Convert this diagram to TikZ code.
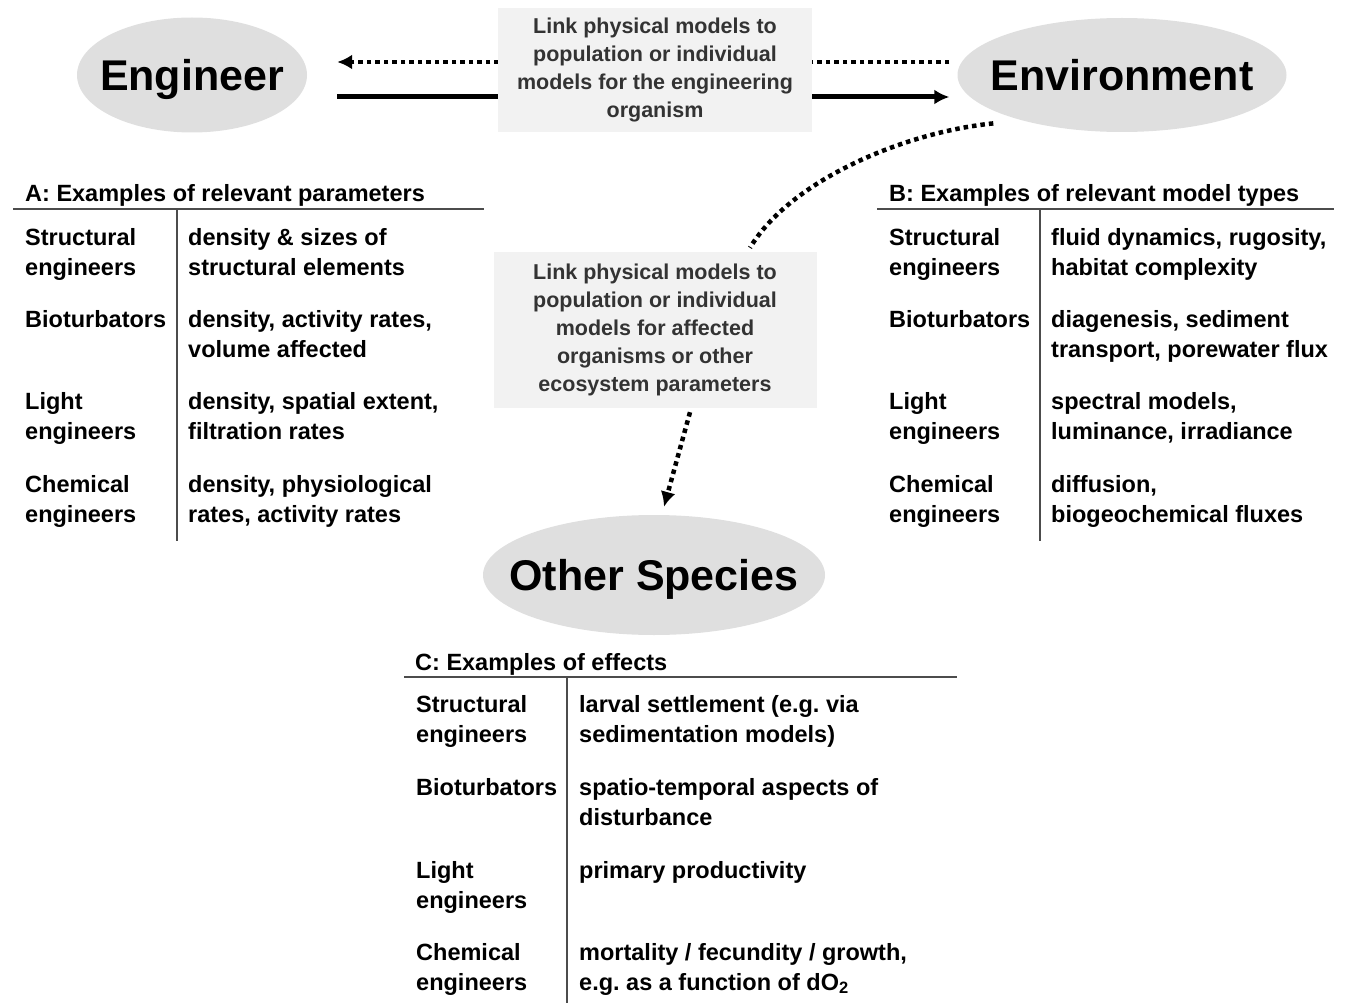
\documentclass[tikz,border=0pt]{standalone}
\usepackage{fontspec}
\setmainfont{Liberation Sans}
\frenchspacing
\usetikzlibrary{positioning,arrows.meta,shapes.geometric}
\tikzset{
  dotline/.style={line width=4.5pt, dash pattern=on 4.5pt off 4pt},
  dotarrow/.style={dotline, -{Latex[length=15pt,width=15pt]}},
  solidarrow/.style={line width=5pt, -{Latex[length=15pt,width=15pt]}},
  actor/.style={ellipse, fill=gray!25, inner sep=0pt, text depth=0pt, font=\fontsize{43}{50}\selectfont\bfseries},
  linkbox/.style={fill=gray!10, inner sep=0pt, align=center, text=black!80, font=\fontsize{21.5}{27.8}\selectfont\bfseries},
  tabtitle/.style={anchor=base west, inner sep=0pt, font=\fontsize{23.5}{30}\selectfont\bfseries},
  tabcell/.style={anchor=north west, inner sep=0pt, align=left, font=\fontsize{23.5}{30}\selectfont\bfseries},
  tabrule/.style={line width=1.8pt, black!70}
}
\begin{document}
\begin{tikzpicture}[x=1pt, y=-1pt]
  \useasboundingbox (0,0) rectangle (1347,1003);
  % the three actors
  \node[actor, minimum width=230pt, minimum height=115pt] (eng) at (192,75) {\makebox[0pt]{Engineer}};
  \node[actor, minimum width=329pt, minimum height=114pt] (env) at (1122,75) {\makebox[0pt]{Environment}};
  \node[actor, minimum width=342pt, minimum height=120pt] (sps) at (654,575) {\makebox[0pt]{Other Species}};
  % links between engineer and environment
  \draw[dotarrow] ([xshift=-8pt,yshift=13pt]env.west) -- ([xshift=30pt,yshift=13pt]eng.east);
  \draw[solidarrow] ([xshift=30pt,yshift=-22pt]eng.east) -- ([xshift=-8pt,yshift=-22pt]env.west);
  \node[linkbox, minimum width=314pt, minimum height=124pt] (link1) at (655,70)
    {Link physical models to\\population or individual\\models for the engineering\\organism};
  \node[linkbox, minimum width=323pt, minimum height=156pt] (link2) at (655,330)
    {Link physical models to\\population or individual\\models for affected\\organisms or other\\ecosystem parameters};
  \draw[dotline] ([xshift=-15pt,yshift=-7pt]env.200) .. controls +(-90,9) and +(40,-67) .. ([xshift=95pt,yshift=4pt]link2.north);
  \draw[dotarrow] ([xshift=35pt,yshift=-4pt]link2.south) -- ([xshift=10pt,yshift=8pt]sps.north);
  % table A
  \node[tabtitle] (ta) at (25,202) {A: Examples of relevant parameters};
  \draw[tabrule] (13,209) -- (484,209);
  \draw[tabrule] (177,209) -- (177,541);
  \node[tabcell] (a1l) at (25,224) {\strut Structural\\engineers};
  \node[tabcell] (a1r) at (188,224) {\strut density \& sizes of\\structural elements};
  \node[tabcell] (a2l) at (25,306) {\strut Bioturbators};
  \node[tabcell] (a2r) at (188,306) {\strut density, activity rates,\\volume affected};
  \node[tabcell] (a3l) at (25,388) {\strut Light\\engineers};
  \node[tabcell] (a3r) at (188,388) {\strut density, spatial extent,\\filtration rates};
  \node[tabcell] (a4l) at (25,471) {\strut Chemical\\engineers};
  \node[tabcell] (a4r) at (188,471) {\strut density, physiological\\rates, activity rates};
  % table B
  \node[tabtitle] (tb) at (889,202) {B: Examples of relevant model types};
  \draw[tabrule] (877,209) -- (1334,209);
  \draw[tabrule] (1040,209) -- (1040,541);
  \node[tabcell] (b1l) at (889,224) {\strut Structural\\engineers};
  \node[tabcell] (b1r) at (1051,224) {\strut fluid dynamics, rugosity,\\habitat complexity};
  \node[tabcell] (b2l) at (889,306) {\strut Bioturbators};
  \node[tabcell] (b2r) at (1051,306) {\strut diagenesis, sediment\\transport, porewater flux};
  \node[tabcell] (b3l) at (889,388) {\strut Light\\engineers};
  \node[tabcell] (b3r) at (1051,388) {\strut spectral models,\\luminance, irradiance};
  \node[tabcell] (b4l) at (889,471) {\strut Chemical\\engineers};
  \node[tabcell] (b4r) at (1051,471) {\strut diffusion,\\biogeochemical fluxes};
  % table C
  \node[tabtitle] (tc) at (415,670) {C: Examples of effects};
  \draw[tabrule] (404,677) -- (957,677);
  \draw[tabrule] (567,677) -- (567,1003);
  \node[tabcell] (c1l) at (416,691) {\strut Structural\\engineers};
  \node[tabcell] (c1r) at (579,691) {\strut larval settlement (e.g. via\\sedimentation models)};
  \node[tabcell] (c2l) at (416,774) {\strut Bioturbators};
  \node[tabcell] (c2r) at (579,774) {\strut spatio-temporal aspects of\\disturbance};
  \node[tabcell] (c3l) at (416,857) {\strut Light\\engineers};
  \node[tabcell] (c3r) at (579,857) {\strut primary productivity};
  \node[tabcell] (c4l) at (416,939) {\strut Chemical\\engineers};
  \node[tabcell] (c4r) at (579,939) {\strut mortality / fecundity / growth,\\e.g. as a function of dO\textsubscript{2}};
\end{tikzpicture}
\end{document}
